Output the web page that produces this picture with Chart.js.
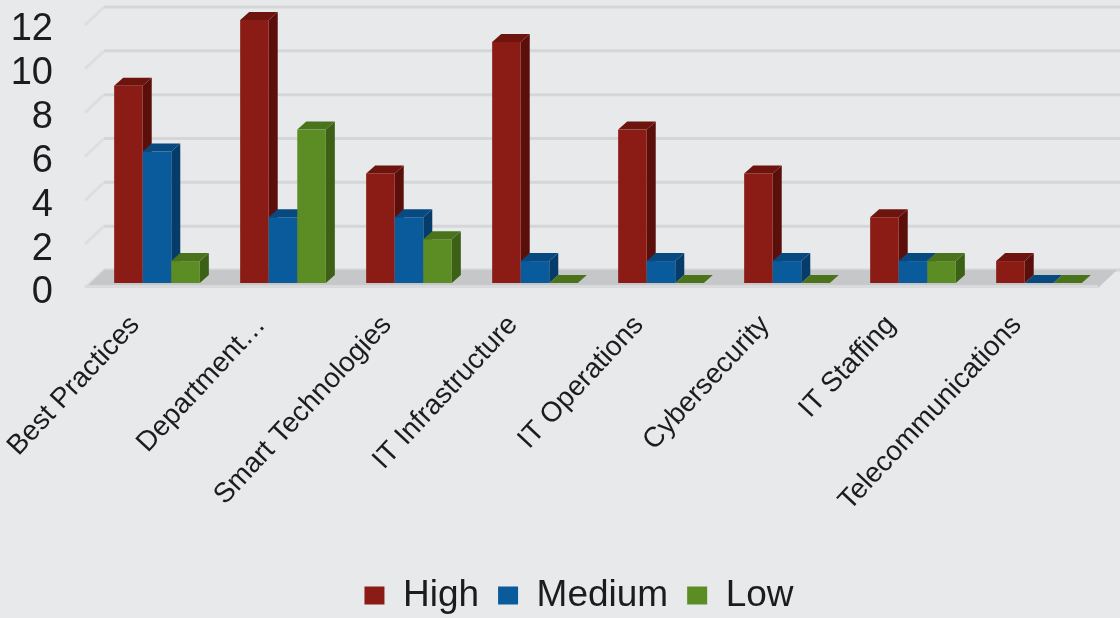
<!DOCTYPE html>
<html lang="en">
<head>
<meta charset="UTF-8">
<title>Priority by Area</title>
<script src="https://cdn.jsdelivr.net/npm/chart.js"></script>
<style>
  html, body { margin: 0; padding: 0; background: #e7e9eb; }
  #wrap { width: 1120px; height: 618px; position: relative; }
</style>
</head>
<body>
<div id="wrap"><canvas id="chart"></canvas></div>
<script>
const categories = ['Best Practices', 'Department…', 'Smart Technologies', 'IT Infrastructure', 'IT Operations', 'Cybersecurity', 'IT Staffing', 'Telecommunications'];
const highValues = [9, 12, 5, 11, 7, 5, 3, 1];
const mediumValues = [6, 3, 3, 1, 1, 1, 1, 0];
const lowValues = [1, 7, 2, 0, 0, 0, 1, 0];
const yTicks = [0, 2, 4, 6, 8, 10, 12];

// front / side / top shades for the fake 3D columns
const shades = [
  { front: '#8b1c15', side: '#5a0f0b', top: '#6e140f' },
  { front: '#0a5b9c', side: '#063c69', top: '#084a80' },
  { front: '#5c8c24', side: '#3c6015', top: '#4a731c' }
];
const DX = 9, DY = -8;   // column depth
const WALL = 13;         // back wall sits this far above the front plane
const FONT = "'Liberation Sans', Arial, sans-serif";

const depthPlugin = {
  id: 'depth',
  afterLayout(chart) {
    // legend sits a little right of centre and lower in the original
    const lg = chart.legend;
    if (lg) {
      lg.left += 28; lg.right += 28;
      lg.top += 6; lg.bottom += 6;
    }
  },
  beforeDatasetsDraw(chart) {
    const { ctx, chartArea: a, scales: { y } } = chart;
    ctx.save();
    // back wall + left wall grid lines
    yTicks.forEach(v => {
      const yb = y.getPixelForValue(v) - WALL;
      ctx.lineWidth = 3;
      ctx.strokeStyle = '#dcdee0';
      ctx.beginPath();
      ctx.moveTo(a.left - 9, yb + 18);
      ctx.lineTo(a.left + 10, yb);
      ctx.stroke();
      ctx.strokeStyle = '#d4d6d8';
      ctx.beginPath();
      ctx.moveTo(a.left + 10, yb);
      ctx.lineTo(chart.width, yb);
      ctx.stroke();
    });
    // floor
    const fy = y.getPixelForValue(0);
    ctx.fillStyle = '#c6c7c8';
    ctx.beginPath();
    ctx.moveTo(a.left - 9, fy + 5);
    ctx.lineTo(a.left + 10, fy - WALL);
    ctx.lineTo(a.right + 15, fy - WALL);
    ctx.lineTo(a.right - 4, fy + 5);
    ctx.closePath();
    ctx.fill();
    ctx.fillStyle = '#d9dadb';
    ctx.fillRect(a.left - 9, fy + 2, a.right - a.left + 5, 3);
    ctx.restore();
  },
  beforeDatasetDraw() {
    return false; // columns are drawn below, in 3D
  },
  afterDatasetsDraw(chart) {
    const ctx = chart.ctx;
    const metas = chart.data.datasets.map((d, i) => chart.getDatasetMeta(i));
    ctx.save();
    for (let j = 0; j < categories.length; j++) {
      metas.forEach((meta, i) => {
        const p = meta.data[j].getProps(['x', 'y', 'base', 'width'], true);
        const x0 = p.x - p.width / 2, x1 = p.x + p.width / 2;
        const s = shades[i];
        // side
        ctx.fillStyle = s.side;
        ctx.beginPath();
        ctx.moveTo(x1, p.y);
        ctx.lineTo(x1 + DX, p.y + DY);
        ctx.lineTo(x1 + DX, p.base + DY);
        ctx.lineTo(x1, p.base);
        ctx.closePath();
        ctx.fill();
        // top
        ctx.fillStyle = s.top;
        ctx.beginPath();
        ctx.moveTo(x0, p.y);
        ctx.lineTo(x0 + DX, p.y + DY);
        ctx.lineTo(x1 + DX, p.y + DY);
        ctx.lineTo(x1, p.y);
        ctx.closePath();
        ctx.fill();
        // front
        ctx.fillStyle = s.front;
        ctx.fillRect(x0, p.y, p.width, p.base - p.y);
      });
    }
    ctx.restore();
  }
};

new Chart(document.getElementById('chart'), {
  type: 'bar',
  data: {
    labels: categories,
    datasets: [
      { label: 'High', data: highValues, backgroundColor: shades[0].front },
      { label: 'Medium', data: mediumValues, backgroundColor: shades[1].front },
      { label: 'Low', data: lowValues, backgroundColor: shades[2].front }
    ]
  },
  options: {
    responsive: true,
    maintainAspectRatio: false,
    animation: false,
    datasets: { bar: { categoryPercentage: 0.68, barPercentage: 1.0 } },
    layout: { padding: { top: 20, right: 18, left: 0, bottom: 0 } },
    plugins: {
      tooltip: { enabled: false },
      legend: {
        position: 'bottom',
        labels: {
          font: { family: FONT, size: 37 },
          color: '#1c1c1c',
          boxWidth: 20,
          boxHeight: 18,
          padding: 19
        }
      }
    },
    scales: {
      x: {
        grid: { display: false },
        border: { display: false },
        ticks: {
          font: { family: FONT, size: 28 },
          color: '#1c1c1c',
          minRotation: 47,
          maxRotation: 47,
          autoSkip: false,
          padding: 18,
          labelOffset: -22
        },
        afterFit(s) {
          s.height = 269;
          s.paddingLeft = 0;
          s.paddingRight = 0;
        }
      },
      y: {
        min: 0,
        max: 12,
        grid: { display: false, drawTicks: false },
        border: { display: false },
        afterBuildTicks(s) { s.ticks = yTicks.map(v => ({ value: v })); },
        ticks: {
          font: { family: FONT, size: 38 },
          color: '#1c1c1c',
          autoSkip: false,
          padding: 41,
          labelOffset: 10
        },
        afterFit(s) {
          s.width = 94;
          s.paddingTop = 0;
          s.paddingBottom = 0;
        }
      }
    }
  },
  plugins: [depthPlugin]
});
</script>
</body>
</html>
